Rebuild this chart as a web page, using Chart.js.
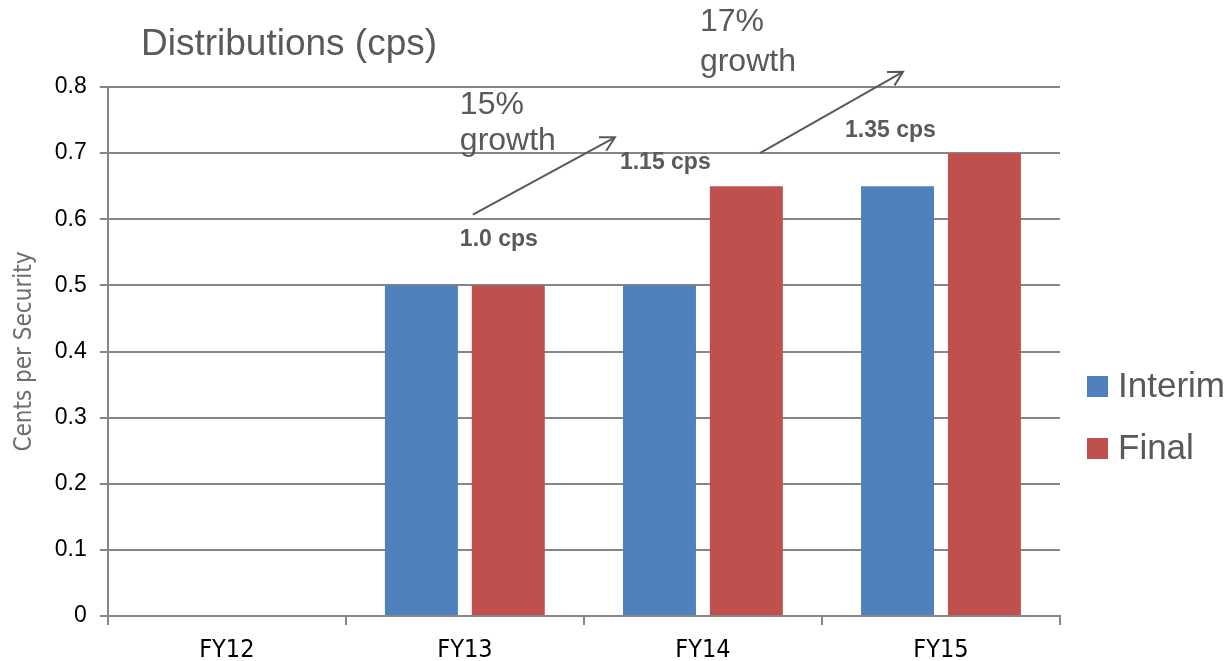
<!DOCTYPE html>
<html>
<head>
<meta charset="utf-8">
<script src="https://cdn.jsdelivr.net/npm/chart.js@4/dist/chart.umd.min.js"></script>
<style>
html, body { margin: 0; padding: 0; background: #fff; }
#wrap { width: 1232px; height: 661px; position: relative; }
</style>
</head>
<body>
<div id="wrap"><canvas id="chart"></canvas></div>
<script>
// data
const categories = ['FY12', 'FY13', 'FY14', 'FY15'];
const interimValues = [null, 0.5, 0.5, 0.65];
const finalValues = [null, 0.5, 0.65, 0.7];
const seriesNames = ['Interim', 'Final'];
const seriesColors = ['#4F81BD', '#C0504D'];
const yTicks = [0, 0.1, 0.2, 0.3, 0.4, 0.5, 0.6, 0.7, 0.8];
const totalLabels = ['1.0 cps', '1.15 cps', '1.35 cps'];
const growthLabels = ['15%', '17%'];

const grey = '#595959';
const condensed = "'DejaVu Sans Condensed', sans-serif";
const sans = "'Liberation Sans', Arial, sans-serif";

// title, legend, totals and growth arrows
const extrasPlugin = {
	id: 'extras',
	afterDraw(chart) {
		const ctx = chart.ctx;
		const x = chart.scales.x;
		const y = chart.scales.y;
		ctx.save();

		// title
		ctx.fillStyle = grey;
		ctx.font = '37px ' + sans;
		ctx.textBaseline = 'middle';
		ctx.textAlign = 'left';
		ctx.fillText('Distributions (cps)', 141, 45);

		// legend
		seriesNames.forEach(function(name, i) {
			const cy = 386 + i * 62;
			ctx.fillStyle = seriesColors[i];
			ctx.fillRect(1087, cy - 10, 21, 21);
			ctx.fillStyle = grey;
			ctx.font = '35px ' + sans;
			ctx.fillText(name, 1118, cy + 1);
		});

		// totals per year (bold)
		const totalPos = [[1, -5, 0.569], [2, -83, 0.685], [3, -96, 0.734]];
		ctx.font = 'bold 23px ' + sans;
		ctx.fillStyle = grey;
		totalPos.forEach(function(p, i) {
			ctx.fillText(totalLabels[i], x.getPixelForValue(p[0]) + p[1], y.getPixelForValue(p[2]));
		});

		// growth text
		const growthPos = [[1, -5, 0.773, 0.718], [2, -3, 0.898, 0.838]];
		ctx.font = '32px ' + sans;
		growthPos.forEach(function(p, i) {
			const gx = x.getPixelForValue(p[0]) + p[1];
			ctx.fillText(growthLabels[i], gx, y.getPixelForValue(p[2]));
			ctx.fillText('growth', gx, y.getPixelForValue(p[3]));
		});

		// arrows
		const arrows = [
			[1, 8, 0.607, 2, -88, 0.724],
			[2, 57, 0.700, 3, -38, 0.823]
		];
		ctx.strokeStyle = grey;
		ctx.lineWidth = 2;
		arrows.forEach(function(a) {
			const x1 = x.getPixelForValue(a[0]) + a[1], y1 = y.getPixelForValue(a[2]);
			const x2 = x.getPixelForValue(a[3]) + a[4], y2 = y.getPixelForValue(a[5]);
			const ang = Math.atan2(y2 - y1, x2 - x1);
			ctx.beginPath();
			ctx.moveTo(x1, y1);
			ctx.lineTo(x2, y2);
			ctx.moveTo(x2 - 16 * Math.cos(ang - 0.5), y2 - 16 * Math.sin(ang - 0.5));
			ctx.lineTo(x2, y2);
			ctx.lineTo(x2 - 16 * Math.cos(ang + 0.5), y2 - 16 * Math.sin(ang + 0.5));
			ctx.stroke();
		});

		ctx.restore();
	}
};

new Chart(document.getElementById('chart'), {
	type: 'bar',
	data: {
		labels: categories,
		datasets: [
			{ label: seriesNames[0], data: interimValues, backgroundColor: seriesColors[0] },
			{ label: seriesNames[1], data: finalValues, backgroundColor: seriesColors[1] }
		]
	},
	options: {
		responsive: true,
		maintainAspectRatio: false,
		animation: false,
		categoryPercentage: 0.73,
		barPercentage: 0.84,
		layout: { padding: { top: 87, right: 172, left: 10, bottom: -15 } },
		plugins: {
			legend: { display: false },
			tooltip: { enabled: false }
		},
		scales: {
			x: {
				grid: { drawOnChartArea: false, color: '#868686', lineWidth: 2, tickLength: 9 },
				border: { color: '#868686', width: 2 },
				ticks: { color: '#000', font: { family: condensed, size: 25, lineHeight: 1 }, padding: 13 }
			},
			y: {
				min: 0,
				max: 0.8,
				afterBuildTicks: function(axis) {
					axis.ticks = yTicks.map(v => ({ value: v }));
				},
				grid: { color: '#868686', lineWidth: 2, tickLength: 8 },
				border: { color: '#868686', width: 2 },
				ticks: { color: '#000', font: { family: sans, size: 23 }, padding: 13 },
				title: {
					display: true,
					text: 'Cents per Security',
					color: '#6e6e6e',
					font: { family: condensed, size: 24 },
					padding: { top: 0, bottom: 3 }
				}
			}
		}
	},
	plugins: [extrasPlugin]
});
</script>
</body>
</html>
